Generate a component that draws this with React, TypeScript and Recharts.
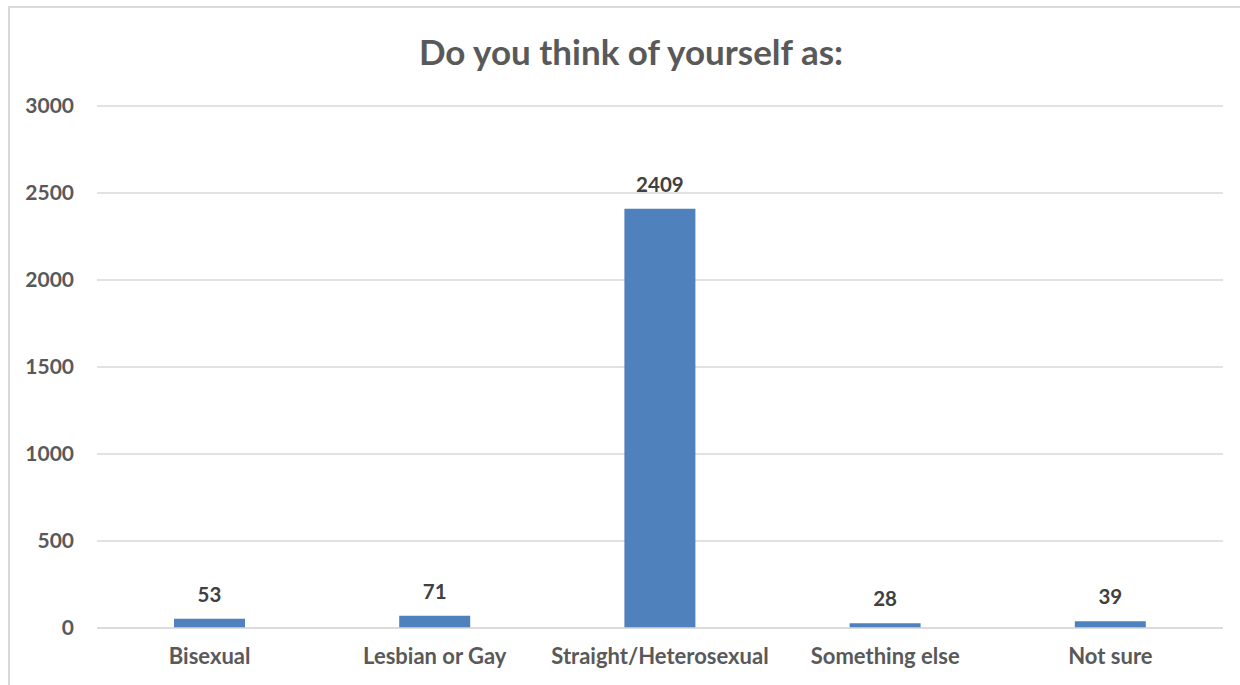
import { BarChart, Bar, XAxis, YAxis, CartesianGrid, LabelList } from "recharts";

const categories = [
  "Bisexual",
  "Lesbian or Gay",
  "Straight/Heterosexual",
  "Something else",
  "Not sure",
];
const counts = [53, 71, 2409, 28, 39];
const yTicks = [0, 500, 1000, 1500, 2000, 2500, 3000];

const data = categories.map((name, i) => ({ name, count: counts[i] }));

const font = "Lato, 'Open Sans', sans-serif";

export default function App() {
  return (
    <div style={{ position: "absolute", left: 0, top: 0, width: 1240, height: 685, overflow: "hidden", fontFamily: font }}>
      <div
        style={{
          position: "absolute",
          left: 8,
          top: 6,
          width: 1300,
          height: 800,
          border: "2px solid #d9d9d9",
          boxSizing: "border-box",
        }}
      />
      <div
        style={{
          position: "absolute",
          left: 0,
          width: 1262,
          top: 29,
          lineHeight: "44px",
          textAlign: "center",
          fontSize: 35,
          fontWeight: 700,
          color: "#595959",
        }}
      >
        Do you think of yourself as:
      </div>
      <div style={{ position: "absolute", left: 0, top: 0 }}>
        <BarChart
          width={1240}
          height={685}
          data={data}
          margin={{ top: 106, right: 17, bottom: 15, left: 0 }}
          barCategoryGap={77}
        >
          <CartesianGrid vertical={false} stroke="#d9d9d9" strokeWidth={1.5} />
          <XAxis
            dataKey="name"
            axisLine={{ stroke: "#d9d9d9", strokeWidth: 1.5 }}
            tickLine={false}
            tickSize={0}
            tickMargin={20}
            height={42}
            interval={0}
            tick={{ fill: "#595959", fontSize: 22, fontWeight: 700, fontFamily: font }}
          />
          <YAxis
            width={97}
            domain={[0, 3000]}
            ticks={yTicks}
            axisLine={false}
            tickLine={false}
            tickSize={0}
            tickMargin={23}
            tick={{ fill: "#595959", fontSize: 21, fontWeight: 700, fontFamily: font }}
          />
          <Bar dataKey="count" fill="#4f81bd" isAnimationActive={false}>
            <LabelList
              dataKey="count"
              position="top"
              offset={17}
              fill="#404040"
              fontSize={20.5}
              fontWeight={700}
              fontFamily={font}
            />
          </Bar>
        </BarChart>
      </div>
    </div>
  );
}
